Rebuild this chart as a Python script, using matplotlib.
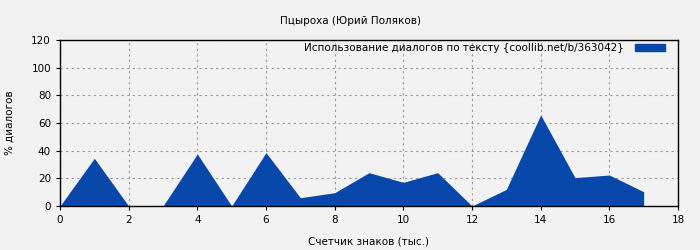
import matplotlib
matplotlib.use("Agg")
import matplotlib.pyplot as plt
from matplotlib.patches import Patch

x_vals = [0, 1, 2, 3, 4, 5, 6, 7, 8, 9, 10, 11, 12, 13, 14, 15, 16, 17]
y_vals = [0, 34.5, 0, 0, 37.6, 0, 38.6, 6.0, 9.6, 24.1, 17.1, 24.1, 0, 12.0, 65.8, 20.5, 22.4, 10.3]
title = "Пцыроха (Юрий Поляков)"
legend_label = "Использование диалогов по тексту {coollib.net/b/363042}"
xlabel = "Счетчик знаков (тыс.)"
ylabel = "% диалогов"

bg = "#f2f2f2"
color = "#0747a9"

fig = plt.figure(figsize=(7, 2.5), dpi=100, facecolor=bg)
ax = fig.add_axes([60/700, 44/250, 618/700, 166/250], facecolor=bg)
ax.fill_between(x_vals, y_vals, 0, color=color, linewidth=0)
ax.set_xlim(0, 18)
ax.set_ylim(0, 120)
ax.set_xticks(range(0, 19, 2))
ax.set_yticks(range(0, 121, 20))
ax.grid(True, color="#999999", linestyle=(0, (2, 3)), linewidth=0.8)
ax.set_axisbelow(True)
for s in ax.spines.values():
    s.set_color("black")
    s.set_linewidth(1)
ax.tick_params(labelsize=7.5, length=3, width=0.8, colors="black")
ax.set_xlabel(xlabel, fontsize=7.5, labelpad=8)
ax.set_ylabel(ylabel, fontsize=7.5, labelpad=12)
fig.text(0.5, 1 - 20.5/250, title, ha="center", va="center", fontsize=7.5)
leg = ax.legend(handles=[Patch(color=color, label=legend_label)], loc="upper right",
                bbox_to_anchor=(1 - 13/618, 1 - 3/166),
                frameon=False, fontsize=7.5, handlelength=2.9, handleheight=0.6,
                markerfirst=False, borderaxespad=0, borderpad=0, handletextpad=1.05)
fig.savefig("out.png", dpi=100, facecolor=bg)
